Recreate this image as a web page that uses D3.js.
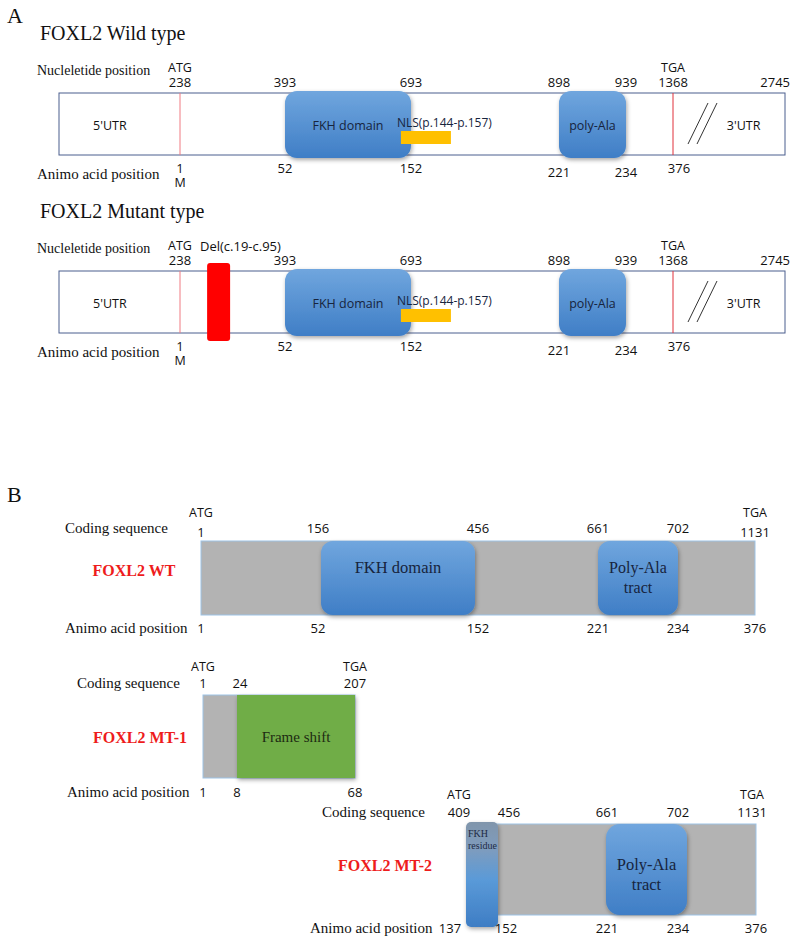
<!DOCTYPE html>
<html><head><meta charset="utf-8">
<script src="https://cdn.jsdelivr.net/npm/d3@7"></script>
<style>body{margin:0;background:#fff}</style>
</head><body>
<svg id="c" width="796" height="948"></svg>
<script>
// ---------------- DATA ----------------
const panelLabels = ["A", "B"];
const titlesA = ["FOXL2 Wild type", "FOXL2 Mutant type"];
const ntPositions = [238, 393, 693, 898, 939, 1368, 2745];
const ntCodons = ["ATG", "", "", "", "", "TGA", ""];
const aaPositionsA = [1, 52, 152, 221, 234, 376];
const aaAnchorNt = [238, 393, 693, 898, 939, 1368];
const domainNamesA = ["FKH domain", "poly-Ala"];
const domainStartNtA = [393, 898];
const domainEndNtA = [693, 939];
const utrLabels = ["5'UTR", "3'UTR"];
const nlsLabel = "NLS(p.144-p.157)";
const nlsAa = [144, 157];
const delLabel = "Del(c.19-c.95)";
const delCds = [19, 95];

const trackNames = ["FOXL2 WT", "FOXL2 MT-1", "FOXL2 MT-2"];
const wtCds = [1, 156, 456, 661, 702, 1131];
const wtCodons = ["ATG", "", "", "", "", "TGA"];
const wtAa = [1, 52, 152, 221, 234, 376];
const wtDomainNames = ["FKH domain", "Poly-Ala tract"];
const wtDomainStart = [156, 661];
const wtDomainEnd = [456, 702];
const mt1Cds = [1, 24, 207];
const mt1Codons = ["ATG", "", "TGA"];
const mt1Aa = [1, 8, 68];
const mt1Shift = "Frame shift";
const mt2Cds = [409, 456, 661, 702, 1131];
const mt2Codons = ["ATG", "", "", "", "TGA"];
const mt2Aa = [137, 152, 221, 234, 376];
const mt2Residue = "FKH residue";

// ---------------- SETUP ----------------
const svg = d3.select("#c");
const SERIF = "'Liberation Serif','Times New Roman',serif";
const SANS = "'Open Sans','Noto Sans',sans-serif";
const defs = svg.append("defs");
const gBlue = defs.append("linearGradient").attr("id","blue").attr("x1",0).attr("y1",0).attr("x2",0).attr("y2",1);
gBlue.append("stop").attr("offset","0%").attr("stop-color","#70a6de");
gBlue.append("stop").attr("offset","100%").attr("stop-color","#3f7ec6");
const gRes = defs.append("linearGradient").attr("id","res").attr("x1",0).attr("y1",0).attr("x2",0).attr("y2",1);
gRes.append("stop").attr("offset","0%").attr("stop-color","#8095ab");
gRes.append("stop").attr("offset","25%").attr("stop-color","#7f9cbd");
gRes.append("stop").attr("offset","55%").attr("stop-color","#5a9ad8");
gRes.append("stop").attr("offset","100%").attr("stop-color","#3e7dc4");
const sh = defs.append("filter").attr("id","sh").attr("x","-20%").attr("y","-20%").attr("width","150%").attr("height","150%");
sh.append("feDropShadow").attr("dx",1).attr("dy",2).attr("stdDeviation",2).attr("flood-color","#000").attr("flood-opacity",0.35);

function txt(g, x, y, s, size, font, opts={}) {
  return g.append("text").attr("x",x).attr("y",y).text(s)
    .attr("font-size",size).attr("font-family",font)
    .attr("fill",opts.fill||"#111").attr("text-anchor",opts.anchor||"start")
    .attr("font-weight",opts.weight||"normal");
}

// ---------------- PANEL A ----------------
txt(svg, 7, 23, panelLabels[0], 22, SERIF);
const xA = d3.scaleLinear().domain([1, ...ntPositions]).range([59,180,285,411,559,626,673,785]);
const xAa = d3.scaleLinear().domain(aaPositionsA).range(aaAnchorNt.map(v => xA(v)));

function drawA(oy, mutant) {
  const g = svg.append("g").attr("transform",`translate(0,${oy})`);
  txt(g, 40, 40, titlesA[mutant?1:0], 20, SERIF);
  txt(g, 37, 75, "Nucleletide position", 14, SERIF);
  txt(g, 37, 179, "Animo acid position", 15, SERIF);
  const top = 93, h = 62;
  g.append("rect").attr("x",xA(1)).attr("y",top).attr("width",xA(2745)-xA(1)).attr("height",h)
    .attr("fill","#fff").attr("stroke","#4b5e8e").attr("stroke-width",1);
  // UTR labels
  txt(g, xA(1) + (xA(238)-xA(1))*0.42, 130, utrLabels[0], 12.5, SANS, {anchor:"middle"});
  txt(g, xA(1368) + (xA(2745)-xA(1368))*0.63, 130, utrLabels[1], 12.5, SANS, {anchor:"middle"});
  // codon lines
  [238, 1368].forEach((v,i) => g.append("line").attr("x1",xA(v)).attr("x2",xA(v)).attr("y1",top).attr("y2",top+h)
    .attr("stroke", i===0 ? "#f07b82" : "#e0303a").attr("stroke-width",1));
  // break slashes
  const bx = xA(1368) + 15;
  [0, 9].forEach(d => g.append("line").attr("x1",bx+d).attr("y1",top+51).attr("x2",bx+d+20).attr("y2",top+10)
    .attr("stroke","#333").attr("stroke-width",1));
  // deletion
  if (mutant) {
    const c = xA(238 + (delCds[0]+delCds[1])/2);
    g.append("rect").attr("x",c-11.5).attr("y",top-8).attr("width",23).attr("height",h+16).attr("rx",3)
      .attr("fill","#ff0000");
    txt(g, 200, 73, delLabel, 13, SANS);
  }
  // domains
  domainNamesA.forEach((name,i) => {
    const x0 = xA(domainStartNtA[i]), x1 = xA(domainEndNtA[i]);
    g.append("rect").attr("x",x0).attr("y",top-2).attr("width",x1-x0).attr("height",h+5)
      .attr("rx",12).attr("fill","url(#blue)").attr("filter","url(#sh)");
    txt(g, (x0+x1)/2, 130, name, 12.5, SANS, {anchor:"middle", fill:"#17243d"});
  });
  // NLS
  const nx = xAa(nlsAa[0]);
  txt(g, nx-4, 127, nlsLabel, 12, SANS, {fill:"#17243d"});
  g.append("rect").attr("x",nx).attr("y",131).attr("width",50).attr("height",13).attr("fill","#ffc000");
  // nucleotide labels
  ntPositions.forEach((v,i) => {
    if (ntCodons[i]) txt(g, xA(v), 72, ntCodons[i], 12.5, SANS, {anchor:"middle"});
    const last = i === ntPositions.length - 1;
    txt(g, xA(v) + (last ? 5 : 0), 87, v, 13, SANS, {anchor: last ? "end" : "middle"});
  });
  // amino acid labels
  aaPositionsA.forEach((v,i) => {
    const dy = (i===3||i===4) ? 4 : 0;
    txt(g, xAa(v) + (i===5?6:0), 173+dy, v, 13, SANS, {anchor:"middle"});
  });
  txt(g, xAa(1), 187, "M", 12.5, SANS, {anchor:"middle"});
}
drawA(0, false);
drawA(178, true);

// ---------------- PANEL B ----------------
txt(svg, 7, 502, panelLabels[1], 22, SERIF);

function grayBox(x0, x1, y0, y1) {
  svg.append("rect").attr("x",x0).attr("y",y0).attr("width",x1-x0).attr("height",y1-y0)
    .attr("fill","#b3b3b3").attr("stroke","#9dc3e6").attr("stroke-width",1);
}
function blueBox(x0, x1, y0, y1, rx, fill) {
  svg.append("rect").attr("x",x0).attr("y",y0).attr("width",x1-x0).attr("height",y1-y0)
    .attr("rx",rx).attr("fill",fill||"url(#blue)").attr("filter","url(#sh)");
}
function polyLabel(cx, y, size) {
  txt(svg, cx, y, "Poly-Ala", size, SERIF, {anchor:"middle", fill:"#17243d"});
  txt(svg, cx, y+20, "tract", size, SERIF, {anchor:"middle", fill:"#17243d"});
}

// WT
const xWT = d3.scaleLinear().domain(wtCds).range([201,318,478,598,678,755]);
const xWTaa = d3.scaleLinear().domain(wtAa).range(wtCds.map(v => xWT(v)));
txt(svg, 65, 533, "Coding sequence", 15, SERIF);
txt(svg, 65, 633, "Animo acid position", 15, SERIF);
txt(svg, 134, 576, trackNames[0], 16, SERIF, {anchor:"middle", fill:"#ee1c1c", weight:"bold"});
grayBox(xWT(1), xWT(1131), 541, 615);
blueBox(xWT(156)+3, xWT(456)-3, 541, 615, 12);
txt(svg, (xWT(156)+xWT(456))/2, 573, wtDomainNames[0], 16.5, SERIF, {anchor:"middle", fill:"#17243d"});
blueBox(xWT(661), xWT(702), 541, 615, 12);
polyLabel((xWT(661)+xWT(702))/2, 573, 16);
wtCds.forEach((v,i) => {
  if (wtCodons[i]) txt(svg, xWT(v), 517, wtCodons[i], 12.5, SANS, {anchor:"middle"});
  txt(svg, xWT(v), wtCodons[i] ? 537 : 533, v, 13, SANS, {anchor:"middle"});
});
wtAa.forEach((v,i) => txt(svg, xWTaa(v), 633, v, 13, SANS, {anchor:"middle"}));

// MT-1
const xM1 = d3.scaleLinear().domain(mt1Cds).range([203,237,355]);
const xM1aa = d3.scaleLinear().domain(mt1Aa).range(mt1Cds.map(v => xM1(v)));
txt(svg, 77, 688, "Coding sequence", 15, SERIF);
txt(svg, 67, 797, "Animo acid position", 15, SERIF);
txt(svg, 140, 743, trackNames[1], 16, SERIF, {anchor:"middle", fill:"#ee1c1c", weight:"bold"});
grayBox(xM1(1), xM1(207), 695, 778);
svg.append("rect").attr("x",xM1(24)).attr("y",695).attr("width",xM1(207)-xM1(24)).attr("height",83)
  .attr("fill","#70ad47").attr("filter","url(#sh)");
txt(svg, (xM1(24)+xM1(207))/2, 742, mt1Shift, 15, SERIF, {anchor:"middle", fill:"#1d2a12"});
mt1Cds.forEach((v,i) => {
  if (mt1Codons[i]) txt(svg, xM1(v), 671, mt1Codons[i], 12.5, SANS, {anchor:"middle"});
  txt(svg, xM1(v) + (i===1?3:0), 688, v, 13, SANS, {anchor:"middle"});
});
mt1Aa.forEach((v,i) => txt(svg, xM1aa(v), 797, v, 13, SANS, {anchor:"middle"}));

// MT-2
const xM2 = d3.scaleLinear().domain(mt2Cds).range([466,499,607,684,756]);
const xM2aa = d3.scaleLinear().domain(mt2Aa).range(mt2Cds.map(v => xM2(v)));
txt(svg, 322, 817, "Coding sequence", 15, SERIF);
txt(svg, 310, 933, "Animo acid position", 15, SERIF);
txt(svg, 385, 871, trackNames[2], 16, SERIF, {anchor:"middle", fill:"#ee1c1c", weight:"bold"});
grayBox(xM2(409)+4, xM2(1131), 824, 915);
blueBox(xM2(409), xM2(456)-1, 822, 927, 5, "url(#res)");
const rw = mt2Residue.split(" ");
txt(svg, xM2(409)+2, 837, rw[0], 10, SERIF, {fill:"#1d2a44"});
txt(svg, xM2(409)+2, 849, rw[1], 10, SERIF, {fill:"#1d2a44"});
blueBox(xM2(661)-1, xM2(702)+3, 824, 915, 14);
polyLabel((xM2(661)+xM2(702))/2 + 1, 870, 16.5);
mt2Cds.forEach((v,i) => {
  const dx = i===0 ? -7 : (i===1 ? 10 : (i===3 ? -6 : (i===4 ? -4 : 0)));
  if (mt2Codons[i]) txt(svg, xM2(v)+dx, 799, mt2Codons[i], 12.5, SANS, {anchor:"middle"});
  txt(svg, xM2(v)+dx, 817, v, 13, SANS, {anchor:"middle"});
});
mt2Aa.forEach((v,i) => {
  const dx = i===0 ? -16 : (i===1 ? 7 : (i===3 ? -6 : 0));
  txt(svg, xM2aa(v)+dx, 933, v, 13, SANS, {anchor:"middle"});
});
</script>
</body></html>
